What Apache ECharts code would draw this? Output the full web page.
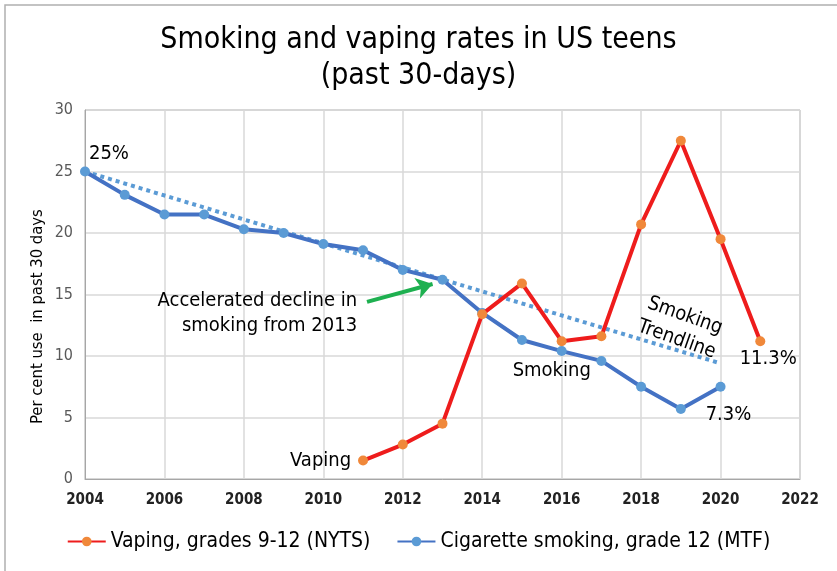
<!DOCTYPE html>
<html>
<head>
<meta charset="utf-8">
<script src="https://cdn.jsdelivr.net/npm/echarts@6/dist/echarts.min.js"></script>
<style>
  html, body { margin: 0; padding: 0; background: #fff; }
  #chart { width: 837px; height: 571px; }
</style>
</head>
<body>
<div id="chart"></div>
<script>
// data
var smokingYears = [2004, 2005, 2006, 2007, 2008, 2009, 2010, 2011, 2012, 2013, 2014, 2015, 2016, 2017, 2018, 2019, 2020];
var smokingRates = [25, 23.1, 21.5, 21.5, 20.3, 20.0, 19.1, 18.6, 17.0, 16.2, 13.5, 11.3, 10.4, 9.6, 7.5, 5.7, 7.5];
var vapingYears = [2011, 2012, 2013, 2014, 2015, 2016, 2017, 2018, 2019, 2020, 2021];
var vapingRates = [1.5, 2.8, 4.5, 13.4, 15.9, 11.2, 11.6, 20.7, 27.5, 19.5, 11.2];
var trendYears = [2004, 2020];
var trendRates = [25, 9.4];

var font = '"DejaVu Sans Condensed", "DejaVu Sans", sans-serif';

function pairs(xs, ys) {
    return xs.map(function (x, i) { return [x, ys[i]]; });
}

var myChart = echarts.init(document.getElementById('chart'));

var option = {
    backgroundColor: '#fff',
    animation: false,
    title: {
        text: 'Smoking and vaping rates in US teens\n(past 30-days)',
        left: 'center',
        top: 17,
        textStyle: {
            fontFamily: font,
            fontSize: 30,
            fontWeight: 'normal',
            color: '#000',
            lineHeight: 36
        }
    },
    grid: { left: 85, right: 37, top: 110, bottom: 92, show: true, borderColor: '#a6a6a6', borderWidth: 1 },
    legend: {
        bottom: 14,
        left: 'center',
        itemWidth: 38,
        itemHeight: 12,
        itemGap: 26,
        textStyle: { fontFamily: font, fontSize: 21, color: '#000' },
        data: ['Vaping, grades 9-12 (NYTS)', 'Cigarette smoking, grade 12 (MTF)']
    },
    xAxis: {
        type: 'value',
        min: 2004, max: 2022, interval: 2,
        axisLine: { show: true, lineStyle: { color: '#a6a6a6', width: 1 } },
        axisTick: { show: false },
        axisLabel: {
            fontFamily: font, fontSize: 15, fontWeight: 'bold', color: '#222', margin: 14,
            formatter: function (v) { return String(v); }
        },
        splitLine: { show: true, lineStyle: { color: '#d9d9d9', width: 1.5 } }
    },
    yAxis: {
        type: 'value',
        min: 0, max: 30, interval: 5,
        axisLine: { show: true, lineStyle: { color: '#a6a6a6', width: 1 } },
        axisTick: { show: false },
        axisLabel: { fontFamily: font, fontSize: 16, color: '#595959', margin: 12 },
        splitLine: { show: true, lineStyle: { color: '#d9d9d9', width: 1.5 } }
    },
    series: [
        {
            name: 'Smoking Trendline',
            type: 'line',
            data: pairs(trendYears, trendRates),
            symbol: 'none',
            lineStyle: { color: '#5b9bd5', width: 4, type: [4, 4] },
            silent: true,
            z: 1
        },
        {
            name: 'Cigarette smoking, grade 12 (MTF)',
            type: 'line',
            data: pairs(smokingYears, smokingRates),
            symbol: 'circle',
            symbolSize: 10,
            lineStyle: { color: '#4472c4', width: 4 },
            itemStyle: { color: '#5b9bd5' },
            z: 3
        },
        {
            name: 'Vaping, grades 9-12 (NYTS)',
            type: 'line',
            data: pairs(vapingYears, vapingRates),
            symbol: 'circle',
            symbolSize: 10,
            lineStyle: { color: '#ee1c1c', width: 4 },
            itemStyle: { color: '#f0883a' },
            z: 4,
            markLine: {
                silent: true,
                symbol: ['none', 'arrow'],
                symbolSize: 16,
                label: { show: false },
                lineStyle: { color: '#1eb050', width: 4, type: 'solid' },
                data: [[{ coord: [2011.1, 14.4] }, { coord: [2012.75, 15.85] }]]
            }
        }
    ],
    graphic: []
};

myChart.setOption(option);

// annotations placed at data coordinates
function px(x, y) {
    return myChart.convertToPixel({ gridIndex: 0 }, [x, y]);
}
function note(text, at, opts) {
    var p = px(at[0], at[1]);
    return {
        type: 'text',
        x: p[0], y: p[1],
        rotation: opts.rotation || 0,
        style: {
            text: text,
            font: (opts.size || 20) + 'px ' + font,
            fill: '#000',
            align: opts.align || 'left',
            verticalAlign: 'middle',
            lineHeight: opts.lineHeight || 25
        },
        z: 10
    };
}

myChart.setOption({
    graphic: [
        { type: 'rect', shape: { x: 5, y: 5, width: 900, height: 700 }, style: { fill: 'none', stroke: '#b0b0b0', lineWidth: 1.5 }, silent: true, z: -10 },
        note('Per cent use  in past 30 days', [2002.82, 13.2], { align: 'center', rotation: Math.PI / 2, size: 16.5 }),
        note('25%', [2004.1, 26.4], {}),
        note('Accelerated decline in\nsmoking from 2013', [2010.85, 13.5], { align: 'right' }),
        note('Vaping', [2010.7, 1.5], { align: 'right' }),
        note('Smoking', [2015.75, 8.8], { align: 'center' }),
        note('Smoking\nTrendline', [2019.0, 12.3], { align: 'center', rotation: -0.34 }),
        note('11.3%', [2021.2, 9.8], { align: 'center' }),
        note('7.3%', [2020.2, 5.2], { align: 'center' })
    ]
});
</script>
</body>
</html>
